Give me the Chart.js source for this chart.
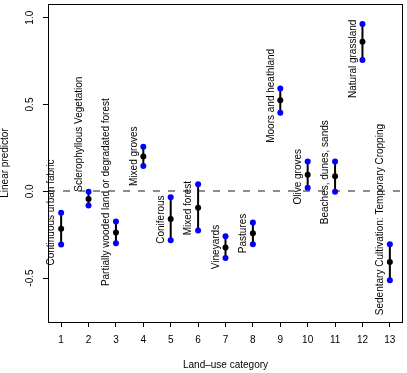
<!DOCTYPE html>
<html>
<head>
<meta charset="utf-8">
<script src="https://cdn.jsdelivr.net/npm/chart.js@4.4.1/dist/chart.umd.min.js"></script>
<style>
  html, body { margin: 0; padding: 0; background: #fff; }
  #wrap { width: 407px; height: 373px; }
</style>
</head>
<body>
<div id="wrap"><canvas id="landChart" width="407" height="373"></canvas></div>
<script>
// Land-use categories, in plotting order (x = 1..13)
var categories = [
    'Continuous urban fabric',
    'Sclerophyllous Vegetation',
    'Partially wooded land or degradated forest',
    'Mixed groves',
    'Coniferous',
    'Mixed forest',
    'Vineyards',
    'Pastures',
    'Moors and heathland',
    'Olive groves',
    'Beaches, dunes, sands',
    'Natural grassland',
    'Sedentary Cultivation: Temporary Cropping'
];

// Linear predictor estimate with lower / upper bounds
var estimate = [-0.216, -0.044, -0.237, 0.201, -0.159, -0.095, -0.324, -0.241, 0.525, 0.096, 0.086, 0.862, -0.408];
var lower    = [-0.306, -0.082, -0.300, 0.146, -0.282, -0.226, -0.385, -0.305, 0.452, 0.020, -0.003, 0.757, -0.513];
var upper    = [-0.124, -0.002, -0.174, 0.257, -0.034, 0.040, -0.259, -0.180, 0.592, 0.171, 0.171, 0.964, -0.305];

// where each category name sits (centre of the label, in predictor units)
var labelAt  = [-0.122, 0.329, -0.005, 0.202, -0.163, -0.097, -0.321, -0.243, 0.550, 0.084, 0.110, 0.763, -0.163];

var xTicks = [1, 2, 3, 4, 5, 6, 7, 8, 9, 10, 11, 12, 13];
var yTicks = [-0.5, 0.0, 0.5, 1.0];
var yTickLabels = ['-0.5', '0.0', '0.5', '1.0'];

var FONT = "'Liberation Sans', Arial, Helvetica, sans-serif";

// build datasets from the arrays
var segments = [];
var bounds = [];
var centres = [];
categories.forEach(function (name, i) {
    var x = i + 1;
    segments.push({ x: x, y: lower[i] }, { x: x, y: upper[i] }, { x: x, y: null });
    bounds.push({ x: x, y: lower[i] }, { x: x, y: upper[i] });
    centres.push({ x: x, y: estimate[i] });
});

var extras = {
    id: 'extras',
    beforeDatasetsDraw: function (chart) {
        var ctx = chart.ctx;
        var a = chart.chartArea;
        var y0 = Math.round(chart.scales.y.getPixelForValue(0));
        // dashed reference line at zero
        ctx.save();
        ctx.strokeStyle = '#8c8c8c';
        ctx.lineWidth = 2;
        ctx.setLineDash([7, 8]);
        ctx.beginPath();
        ctx.moveTo(a.left, y0);
        ctx.lineTo(a.right, y0);
        ctx.stroke();
        ctx.restore();
    },
    afterDatasetsDraw: function (chart) {
        var ctx = chart.ctx;
        var xs = chart.scales.x;
        var ys = chart.scales.y;
        ctx.save();
        ctx.fillStyle = '#000';
        ctx.font = '10px ' + FONT;
        ctx.textAlign = 'center';
        ctx.textBaseline = 'middle';
        categories.forEach(function (name, i) {
            var px = xs.getPixelForValue(i + 1) - 9.5;
            var py = ys.getPixelForValue(labelAt[i]);
            ctx.save();
            ctx.translate(px, py);
            ctx.rotate(-Math.PI / 2);
            ctx.fillText(name, 0, 0);
            ctx.restore();
        });
        ctx.restore();
    },
    afterDraw: function (chart) {
        var ctx = chart.ctx;
        var a = chart.chartArea;
        var ys = chart.scales.y;
        ctx.save();
        // box around the plot
        ctx.strokeStyle = '#000';
        ctx.lineWidth = 1;
        ctx.strokeRect(a.left + 0.5, a.top + 0.5, a.right - a.left - 1, a.bottom - a.top);

        ctx.fillStyle = '#000';
        ctx.font = '10px ' + FONT;
        ctx.textAlign = 'center';
        ctx.textBaseline = 'middle';
        // y tick labels, parallel to the axis
        yTicks.forEach(function (v, i) {
            ctx.save();
            ctx.translate(30.5, ys.getPixelForValue(v));
            ctx.rotate(-Math.PI / 2);
            ctx.fillText(yTickLabels[i], 0, 0);
            ctx.restore();
        });
        // axis titles
        ctx.save();
        ctx.translate(5.5, (a.top + a.bottom) / 2);
        ctx.rotate(-Math.PI / 2);
        ctx.fillText('Linear predictor', 0, 0);
        ctx.restore();
        ctx.fillText('Land\u2013use category', (a.left + a.right) / 2, 365);
        ctx.restore();
    }
};

var ctx = document.getElementById('landChart').getContext('2d');
var landChart = new Chart(ctx, {
    type: 'scatter',
    data: {
        datasets: [{
            label: 'estimate',
            data: centres,
            pointRadius: 3,
            pointBackgroundColor: '#000',
            pointBorderColor: '#000',
            pointBorderWidth: 0,
            showLine: false,
            order: 1
        }, {
            label: 'bounds',
            data: bounds,
            pointRadius: 3,
            pointBackgroundColor: '#0000ff',
            pointBorderColor: '#0000ff',
            pointBorderWidth: 0,
            showLine: false,
            order: 2
        }, {
            label: 'interval',
            data: segments,
            showLine: true,
            spanGaps: false,
            borderColor: '#000',
            borderWidth: 2,
            pointRadius: 0,
            order: 3
        }]
    },
    options: {
        responsive: false,
        animation: false,
        layout: { padding: { top: 3, right: 3, left: 0, bottom: 0 } },
        plugins: {
            legend: { display: false },
            tooltip: { enabled: false }
        },
        scales: {
            x: {
                type: 'linear',
                min: 0.52,
                max: 13.48,
                afterBuildTicks: function (scale) {
                    scale.ticks = xTicks.map(function (v) { return { value: v }; });
                },
                afterFit: function (scale) { scale.height = 51; },
                border: { display: false },
                grid: { drawOnChartArea: false, drawTicks: true, tickLength: 5, color: '#000', lineWidth: 1 },
                ticks: {
                    autoSkip: false,
                    maxRotation: 0,
                    padding: 7,
                    color: '#000',
                    font: { family: FONT, size: 10 }
                }
            },
            y: {
                type: 'linear',
                min: -0.753,
                max: 1.079,
                afterBuildTicks: function (scale) {
                    scale.ticks = yTicks.map(function (v) { return { value: v }; });
                },
                afterFit: function (scale) { scale.width = 48; },
                border: { display: false },
                grid: { drawOnChartArea: false, drawTicks: true, tickLength: 5, color: '#000', lineWidth: 1 },
                ticks: { display: false }
            }
        }
    },
    plugins: [extras]
});
</script>
</body>
</html>
